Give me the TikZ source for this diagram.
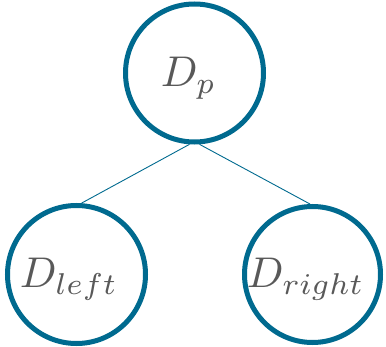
\documentclass[tikz,border=0pt]{standalone}
\usepackage{xcolor}
\definecolor{ring}{RGB}{0,106,143}
\definecolor{txtgray}{RGB}{89,89,89}
\tikzset{
  ringnode/.style={circle, draw=ring, line width=5pt, minimum size=138pt, inner sep=0pt},
  lab/.style={inner sep=0pt, text=txtgray, scale=4.3},
  conn/.style={draw=ring, line width=0.9pt}
}
\begin{document}
\begin{tikzpicture}[x=1pt,y=1pt]
\useasboundingbox (0,0) rectangle (386,346);
\node[ringnode] (top) at (194.5,273) {};
\node[ringnode] (left) at (76.5,71.5) {};
\node[ringnode, minimum size=136pt] (right) at (312.5,71.5) {};
\node[lab, anchor=base west] (tp) at (160,259) {$D_p$};
\node[lab, anchor=base west] (tl) at (19,58) {$D_{left}$};
\node[lab, anchor=base west] (tr) at (246,58) {$D_{right}$};
\draw[conn] (top.266) -- (left.86);
\draw[conn] (top.274) -- (right.92);
\end{tikzpicture}
\end{document}
